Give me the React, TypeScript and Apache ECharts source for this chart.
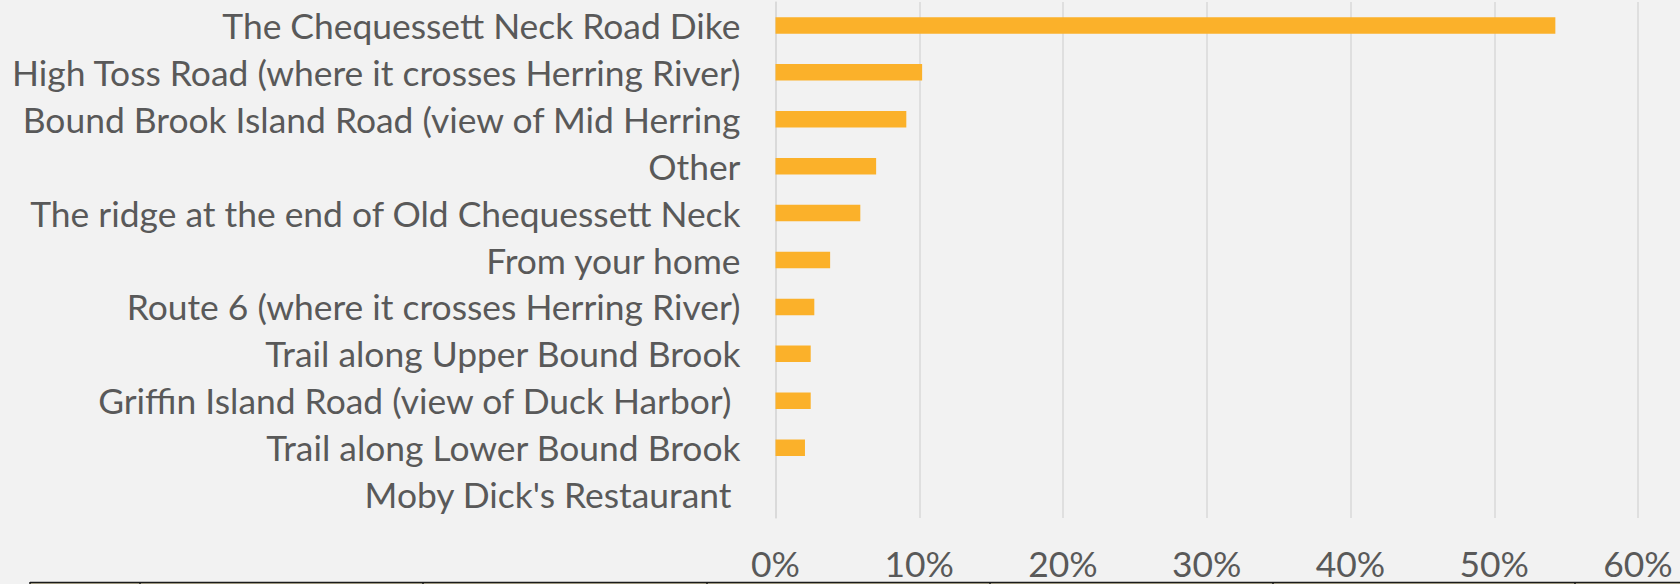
import React, { useEffect, useRef } from "react";
import * as echarts from "echarts";

const categories: string[] = [
  "The Chequessett Neck Road Dike",
  "High Toss Road (where it crosses Herring River)",
  "Bound Brook Island Road (view of Mid Herring",
  "Other",
  "The ridge at the end of Old Chequessett Neck",
  "From your home",
  "Route 6 (where it crosses Herring River)",
  "Trail along Upper Bound Brook",
  "Griffin Island Road (view of Duck Harbor) ",
  "Trail along Lower Bound Brook",
  "Moby Dick's Restaurant ",
];

const percentValues: number[] = [54.25, 10.2, 9.1, 7.0, 5.9, 3.8, 2.7, 2.45, 2.45, 2.05, 0];

const tableBorderXs: number[] = [30, 140, 423, 707, 990, 1273, 1575];

export default function App() {
  const ref = useRef<HTMLDivElement>(null);

  useEffect(() => {
    document.body.style.margin = "0";
    document.body.style.background = "#F2F2F2";
    if (!ref.current) return;
    const chart = echarts.init(ref.current, undefined, { renderer: "svg" });
    const font = "Lato, 'Open Sans', sans-serif";
    const graphics: any[] = [
      {
        type: "rect",
        shape: { x: 30, y: 582.5, width: 1650, height: 2 },
        style: { fill: "#C9C0A0" },
        silent: true,
      },
      {
        type: "line",
        shape: { x1: 30, y1: 582.5, x2: 1680, y2: 582.5 },
        style: { stroke: "#1a1a1a", lineWidth: 1.5 },
        silent: true,
      },
      ...tableBorderXs.map((x) => ({
        type: "line",
        shape: { x1: x, y1: 582, x2: x, y2: 584 },
        style: { stroke: "#1a1a1a", lineWidth: 1.5 },
        silent: true,
      })),
    ];
    chart.setOption({
      animation: false,
      backgroundColor: "#F2F2F2",
      grid: {
        left: 775.5,
        right: 42,
        top: 2,
        bottom: 66,
        containLabel: false,
        outerBoundsMode: "none",
      },
      xAxis: {
        type: "value",
        min: 0,
        max: 60,
        interval: 10,
        axisLabel: {
          formatter: "{value}%",
          color: "#595959",
          fontSize: 35.4,
          fontFamily: font,
          margin: 30,
          lineHeight: 30,
        },
        axisLine: { show: false },
        axisTick: { show: false },
        splitLine: { show: true, lineStyle: { color: "#D9D9D9", width: 1.5 } },
      },
      yAxis: {
        type: "category",
        inverse: true,
        data: categories,
        axisLabel: {
          color: "#595959",
          fontSize: 35.4,
          fontFamily: font,
          margin: 35,
          align: "right",
          padding: [3, 0, 0, 0],
        },
        axisLine: { show: true, lineStyle: { color: "#D9D9D9", width: 1.5 } },
        axisTick: { show: false },
        splitLine: { show: false },
      },
      series: [
        {
          type: "bar",
          data: percentValues,
          barWidth: 16.5,
          itemStyle: { color: "#FBB12A" },
        },
      ],
      graphic: graphics,
    });
    return () => chart.dispose();
  }, []);

  return <div ref={ref} style={{ width: 1680, height: 584, background: "#F2F2F2" }} />;
}
